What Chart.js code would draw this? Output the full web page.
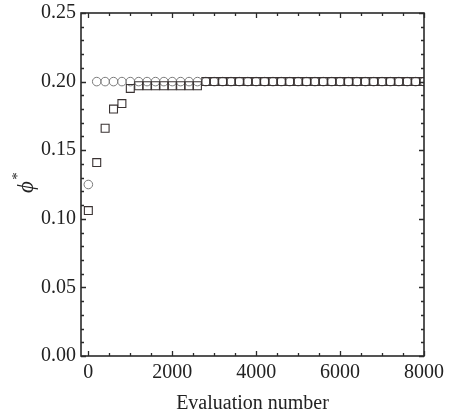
<!DOCTYPE html>
<html>
<head>
<meta charset="utf-8">
<script src="https://cdn.jsdelivr.net/npm/chart.js@4/dist/chart.umd.min.js"></script>
<style>
  html, body { margin: 0; padding: 0; background: #fff; }
  #wrap { position: relative; width: 451px; height: 416px; }
</style>
</head>
<body>
<div id="wrap"><canvas id="c" width="451" height="416"></canvas></div>
<script>
// Evaluation numbers at which phi* was sampled
const evaluations = [0, 200, 400, 600, 800, 1000, 1200, 1400, 1600, 1800, 2000,
  2200, 2400, 2600, 2800, 3000, 3200, 3400, 3600, 3800, 4000,
  4200, 4400, 4600, 4800, 5000, 5200, 5400, 5600, 5800, 6000,
  6200, 6400, 6600, 6800, 7000, 7200, 7400, 7600, 7800, 8000];

// Circle series
const phiCircle = [0.125, 0.200, 0.200, 0.200, 0.200, 0.200, 0.200, 0.200, 0.200, 0.200, 0.200,
  0.200, 0.200, 0.200, 0.200, 0.200, 0.200, 0.200, 0.200, 0.200, 0.200,
  0.200, 0.200, 0.200, 0.200, 0.200, 0.200, 0.200, 0.200, 0.200, 0.200,
  0.200, 0.200, 0.200, 0.200, 0.200, 0.200, 0.200, 0.200, 0.200, 0.200];

// Square series
const phiSquare = [0.106, 0.141, 0.166, 0.180, 0.184, 0.195, 0.197, 0.197, 0.197, 0.197, 0.197,
  0.197, 0.197, 0.197, 0.200, 0.200, 0.200, 0.200, 0.200, 0.200, 0.200,
  0.200, 0.200, 0.200, 0.200, 0.200, 0.200, 0.200, 0.200, 0.200, 0.200,
  0.200, 0.200, 0.200, 0.200, 0.200, 0.200, 0.200, 0.200, 0.200, 0.200];

const xTickLabels = [0, 2000, 4000, 6000, 8000];
const yTickLabels = [0.00, 0.05, 0.10, 0.15, 0.20, 0.25];

const FONT = '"Liberation Serif", "Times New Roman", serif';
const AXIS = '#2a2a2a';

const toPoints = (ys) => evaluations.map((x, i) => ({ x: x, y: ys[i] }));

// Frame with inward ticks on all four sides, plus the y-axis title
const framePlugin = {
  id: 'frame',
  afterDraw(chart) {
    const { ctx, chartArea: a, scales: { x, y } } = chart;
    ctx.save();
    ctx.strokeStyle = AXIS;
    ctx.lineWidth = 1.6;
    ctx.strokeRect(a.left, a.top, a.right - a.left, a.bottom - a.top);
    ctx.lineWidth = 1.3;
    ctx.beginPath();
    for (let v = 0; v <= 8000; v += 500) {
      const px = Math.round(x.getPixelForValue(v)) + 0.5;
      const len = v % 2000 === 0 ? 5 : 3;
      ctx.moveTo(px, a.bottom); ctx.lineTo(px, a.bottom - len);
      ctx.moveTo(px, a.top); ctx.lineTo(px, a.top + len);
    }
    for (let k = 0; k <= 25; k++) {
      const py = Math.round(y.getPixelForValue(k / 100)) + 0.5;
      const len = k % 5 === 0 ? 5 : 3;
      ctx.moveTo(a.left, py); ctx.lineTo(a.left + len, py);
      ctx.moveTo(a.right, py); ctx.lineTo(a.right - len, py);
    }
    ctx.stroke();

    // y-axis title: italic phi with a superscript asterisk
    ctx.translate(27, 187);
    ctx.rotate(-Math.PI / 2);
    ctx.fillStyle = '#222';
    ctx.textAlign = 'center';
    ctx.textBaseline = 'middle';
    ctx.font = 'italic 23px ' + FONT;
    ctx.fillText('\u03D5', 0, 0);
    ctx.font = '15px ' + FONT;
    ctx.fillText('*', 11, -9);
    ctx.restore();
  }
};

new Chart(document.getElementById('c'), {
  type: 'scatter',
  data: {
    datasets: [
      {
        label: 'circle',
        data: toPoints(phiCircle),
        pointStyle: 'circle',
        radius: 4.3,
        borderWidth: 1,
        borderColor: '#7a7a7a',
        backgroundColor: 'rgba(255,255,255,0)',
        order: 2
      },
      {
        label: 'square',
        data: toPoints(phiSquare),
        pointStyle: 'rect',
        radius: 5.6,
        borderWidth: 1.1,
        borderColor: '#3a3333',
        backgroundColor: 'rgba(255,255,255,0)',
        order: 1
      }
    ]
  },
  options: {
    responsive: false,
    animation: false,
    layout: { padding: { top: 13, right: 27, bottom: 0, left: 0 } },
    plugins: { legend: { display: false }, tooltip: { enabled: false } },
    scales: {
      x: {
        type: 'linear',
        min: -175,
        max: 8000,
        afterBuildTicks: (s) => { s.ticks = xTickLabels.map(v => ({ value: v })); },
        afterFit: (s) => { s.height = 60; s.paddingLeft = 0; s.paddingRight = 0; },
        grid: { display: false, drawTicks: false },
        border: { display: false },
        ticks: {
          padding: 5,
          color: '#222',
          font: { family: FONT, size: 20 },
          maxRotation: 0,
          callback: (v) => String(v)
        },
        title: {
          display: true,
          text: 'Evaluation number',
          color: '#222',
          font: { family: FONT, size: 20 },
          padding: { top: 4, bottom: 0 }
        }
      },
      y: {
        type: 'linear',
        min: 0,
        max: 0.25,
        afterBuildTicks: (s) => { s.ticks = yTickLabels.map(v => ({ value: v })); },
        afterFit: (s) => { s.width = 81; s.paddingTop = 0; s.paddingBottom = 0; },
        grid: { display: false, drawTicks: false },
        border: { display: false },
        ticks: {
          padding: 5,
          color: '#222',
          font: { family: FONT, size: 20 },
          callback: (v) => Number(v).toFixed(2)
        }
      }
    }
  },
  plugins: [framePlugin]
});
</script>
</body>
</html>
